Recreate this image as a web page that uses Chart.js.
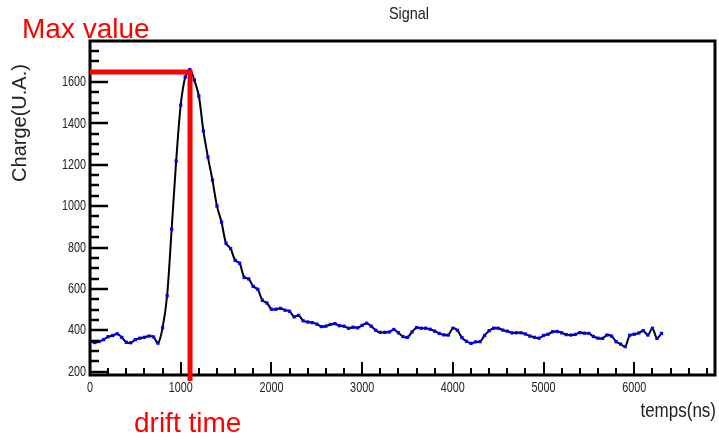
<!DOCTYPE html>
<html>
<head>
<meta charset="utf-8">
<title>Signal</title>
<script src="https://cdn.jsdelivr.net/npm/chart.js@4.4.1/dist/chart.umd.min.js"></script>
<style>
    html, body { margin: 0; padding: 0; background: #fff; }
    #chartCanvas { display: block; }
</style>
</head>
<body>
<canvas id="chartCanvas" width="719" height="440"></canvas>
<script>
// --- DATA ---
const times = [
    0, 50, 100, 150, 200, 250, 300, 350, 400, 450,
    500, 550, 600, 650, 700, 750, 800, 850, 900, 950,
    1000, 1050, 1100, 1150, 1200, 1250, 1300, 1350, 1400, 1450,
    1500, 1550, 1600, 1650, 1700, 1750, 1800, 1850, 1900, 1950,
    2000, 2050, 2100, 2150, 2200, 2250, 2300, 2350, 2400, 2450,
    2500, 2550, 2600, 2650, 2700, 2750, 2800, 2850, 2900, 2950,
    3000, 3050, 3100, 3150, 3200, 3250, 3300, 3350, 3400, 3450,
    3500, 3550, 3600, 3650, 3700, 3750, 3800, 3850, 3900, 3950,
    4000, 4050, 4100, 4150, 4200, 4250, 4300, 4350, 4400, 4450,
    4500, 4550, 4600, 4650, 4700, 4750, 4800, 4850, 4900, 4950,
    5000, 5050, 5100, 5150, 5200, 5250, 5300, 5350, 5400, 5450,
    5500, 5550, 5600, 5650, 5700, 5750, 5800, 5850, 5900, 5950,
    6000, 6050, 6100, 6150, 6200, 6250, 6300
];
const charge = [
    350, 341, 346, 355, 369, 375, 383, 366, 342, 340,
    355, 362, 366, 372, 368, 338, 412, 567, 888, 1218,
    1488, 1624, 1660, 1609, 1532, 1363, 1237, 1126, 1000, 923,
    820, 795, 738, 724, 655, 648, 612, 598, 545, 532,
    502, 502, 506, 497, 492, 465, 472, 446, 440, 437,
    430, 418, 420, 428, 432, 422, 420, 410, 415, 412,
    424, 434, 420, 400, 390, 390, 392, 404, 388, 370,
    366, 392, 413, 410, 410, 405, 396, 385, 378, 377,
    410, 400, 365, 347, 337, 344, 345, 375, 398, 410,
    410, 401, 396, 388, 388, 388, 382, 372, 366, 362,
    375, 381, 393, 394, 388, 379, 377, 380, 389, 386,
    385, 370, 362, 361, 377, 372, 345, 333, 321, 376,
    381, 387, 398, 377, 410, 361, 385
];
const xTickValues = [0, 1000, 2000, 3000, 4000, 5000, 6000];
const yTickValues = [200, 400, 600, 800, 1000, 1200, 1400, 1600];
const xRange = [0, 6890];
const yRange = [184, 1798];
const maxValue = 1648;   // red horizontal marker
const driftTime = 1103;  // red vertical marker

// --- STYLE ---
const plainFont = "'Liberation Sans', Arial, sans-serif";

// ROOT labels look like a squeezed Helvetica, so squeeze Liberation Sans
function narrowText(ctx, text, x, y, size, squeeze, align, baseline) {
    ctx.save();
    ctx.translate(x, y);
    ctx.scale(squeeze, 1);
    ctx.font = `${size}px ${plainFont}`;
    ctx.textAlign = align;
    ctx.textBaseline = baseline;
    ctx.fillText(text, 0, 0);
    ctx.restore();
}

// frame, inside ticks, labels and the red annotations
const rootFrame = {
    id: 'rootFrame',
    afterDatasetsDraw(chart) {
        const { ctx, chartArea: a, scales: { x, y } } = chart;
        ctx.save();
        ctx.strokeStyle = '#000';

        // y ticks: major 200, minor 50
        ctx.lineWidth = 2.5;
        for (let v = 200; v <= yRange[1]; v += 50) {
            const py = Math.round(y.getPixelForValue(v));
            const len = v % 200 === 0 ? 18 : 9;
            ctx.beginPath();
            ctx.moveTo(a.left, py);
            ctx.lineTo(a.left + len, py);
            ctx.stroke();
        }
        // x ticks: major 1000, minor 200
        ctx.lineWidth = 2;
        for (let v = 0; v <= xRange[1]; v += 200) {
            const px = Math.round(x.getPixelForValue(v));
            const len = v % 1000 === 0 ? 13 : 7;
            ctx.beginPath();
            ctx.moveTo(px, a.bottom);
            ctx.lineTo(px, a.bottom - len);
            ctx.stroke();
        }

        ctx.lineWidth = 3;
        ctx.strokeRect(a.left, a.top, a.right - a.left, a.bottom - a.top);

        // tick labels from the scales' own ticks
        ctx.fillStyle = '#222';
        y.ticks.forEach(t => {
            narrowText(ctx, String(t.value), a.left - 4, y.getPixelForValue(t.value), 15, 0.72, 'right', 'middle');
        });
        x.ticks.forEach(t => {
            narrowText(ctx, String(t.value), x.getPixelForValue(t.value), a.bottom + 5, 15, 0.72, 'center', 'top');
        });

        // red markers
        const mx = x.getPixelForValue(driftTime);
        const my = y.getPixelForValue(maxValue);
        ctx.strokeStyle = '#ff0000';
        ctx.lineWidth = 5;
        ctx.lineCap = 'butt';
        ctx.beginPath();
        ctx.moveTo(a.left, my);
        ctx.lineTo(mx + 2.5, my);
        ctx.moveTo(mx, my - 2.5);
        ctx.lineTo(mx, a.bottom + 6);
        ctx.stroke();
        ctx.restore();
    },
    afterDraw(chart) {
        const { ctx } = chart;
        ctx.save();
        ctx.fillStyle = '#222';
        narrowText(ctx, 'Signal', 409, 19, 17, 0.85, 'center', 'alphabetic');
        narrowText(ctx, 'temps(ns)', 716, 417, 20, 0.85, 'right', 'alphabetic');

        ctx.save();
        ctx.translate(26, 123);
        ctx.rotate(-Math.PI / 2);
        ctx.textAlign = 'center';
        ctx.font = `20px ${plainFont}`;
        ctx.fillText('Charge(U.A.)', 0, 0);
        ctx.restore();

        ctx.fillStyle = '#ff0000';
        ctx.textAlign = 'left';
        ctx.font = `28px ${plainFont}`;
        ctx.fillText('Max value', 22, 38);
        ctx.fillText('drift time', 134, 432);
        ctx.restore();
    }
};

const chartCanvas = document.getElementById('chartCanvas');
const points = times.map((t, i) => ({ x: t, y: charge[i] }));

new Chart(chartCanvas, {
    type: 'line',
    data: {
        datasets: [{
            label: 'Signal',
            data: points,
            borderColor: '#000',
            borderWidth: 2,
            tension: 0.3,
            fill: false,
            pointStyle: 'rect',
            pointRadius: 2.3,
            pointBackgroundColor: '#0000ff',
            pointBorderWidth: 0
        }]
    },
    options: {
        responsive: false,
        animation: false,
        devicePixelRatio: 1,
        layout: { padding: { top: 41, right: 4, left: 0, bottom: 0 } },
        plugins: {
            legend: { display: false },
            tooltip: { enabled: false },
            title: { display: false }
        },
        scales: {
            x: {
                type: 'linear',
                min: xRange[0],
                max: xRange[1],
                grid: { display: false, drawTicks: false },
                border: { display: false },
                afterBuildTicks: (scale) => { scale.ticks = xTickValues.map(v => ({ value: v })); },
                afterFit: (scale) => { scale.height = 65; },
                ticks: { display: false }
            },
            y: {
                type: 'linear',
                min: yRange[0],
                max: yRange[1],
                grid: { display: false, drawTicks: false },
                border: { display: false },
                afterBuildTicks: (scale) => { scale.ticks = yTickValues.map(v => ({ value: v })); },
                afterFit: (scale) => { scale.width = 90; },
                ticks: { display: false }
            }
        }
    },
    plugins: [rootFrame]
});
</script>
</body>
</html>
